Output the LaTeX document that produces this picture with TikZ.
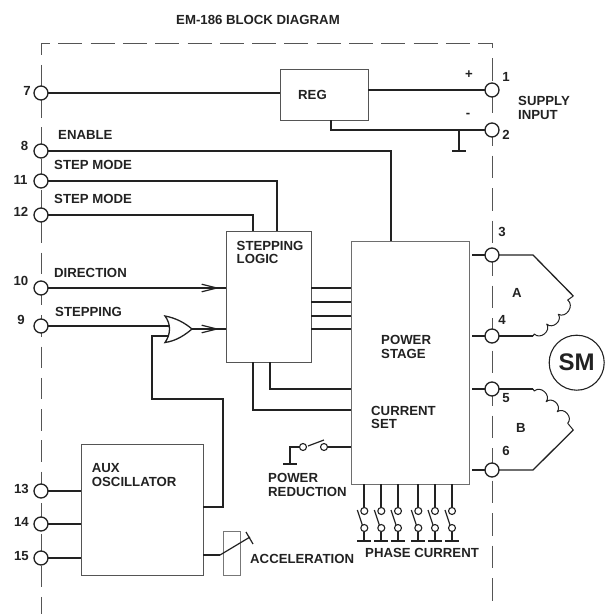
\documentclass[tikz,border=0pt]{standalone}
\usepackage{fontspec}
\setmainfont{Liberation Sans}
\usetikzlibrary{calc}
\definecolor{ink}{HTML}{222222}
\definecolor{edge}{HTML}{555555}
\tikzset{
  lbl/.style={font=\fontsize{13.2}{13.5}\selectfont\bfseries,text=ink,inner sep=0pt,align=left},
  lleft/.style={lbl,anchor=west},
  num/.style={lbl,anchor=center},
  term/.style={circle,draw=ink,fill=white,line width=1.3pt,minimum size=14pt,inner sep=0pt,outer sep=0pt},
  contact/.style={circle,draw=ink,fill=white,line width=1.1pt,minimum size=7pt,inner sep=0pt,outer sep=0pt},
  blockbox/.style={draw=edge,fill=white,line width=.7pt,inner sep=0pt,outer sep=0pt},
  wire/.style={draw=ink,line width=1.7pt,line join=miter},
  thinwire/.style={draw=ink,line width=1.2pt},
  coilwire/.style={draw=ink,line width=1pt,line join=round},
  hump/.style={bend left=85,looseness=1.35},
  frame/.style={draw=edge,line width=.7pt}
}
\begin{document}
\begin{tikzpicture}[x=1pt,y=-1pt]
\useasboundingbox (0,0) rectangle (605,614);
% dashed frame
\coordinate (fbl) at (41,614); \coordinate (ftl) at (41,43); \coordinate (ftr) at (492,43); \coordinate (fbr) at (492,605);
\draw[frame,dash pattern=on 21.5pt off 9.8pt,dash phase=9.5pt] (ftl) -- (fbl);
\draw[frame,dash pattern=on 24pt off 8.3pt,dash phase=15pt] (ftl) -- (ftr);
\draw[frame,dash pattern=on 22.5pt off 10pt,dash phase=17.5pt] (ftr) -- (fbr);

% blocks
\node[blockbox,minimum width=88pt,minimum height=50.5pt] (reg) at (324,94.75) {};
\node[blockbox,minimum width=85pt,minimum height=131pt] (logic) at (268.5,296.5) {};
\node[blockbox,draw=edge!85,line width=.9pt,minimum width=118pt,minimum height=243pt] (power) at (410,362.5) {};
\node[blockbox,minimum width=122pt,minimum height=131pt] (aux) at (142,509.5) {};
\node[blockbox,draw=edge!80,minimum width=17pt,minimum height=44pt] (accbox) at (231.5,553) {};

% terminals
\foreach \n/\x/\y in {7/41/93,8/41/151,11/41/181,12/41/215,10/41/288,9/41/326,13/41/491,14/41/524,15/41/558,
                      1/492/90,2/492/130,3/492/255,4/492/336,5/492/389,6/492/470}
  \node[term] (t\n) at (\x,\y) {};

% left inputs
\draw[wire] (t7) -- (t7 -| reg.west);
\coordinate (enc) at (391,151);
\draw[wire] (t8) -- (enc) -- (enc |- power.north);
\coordinate (m11) at (277,181);
\draw[wire] (t11) -- (m11) -- (m11 |- logic.north);
\coordinate (m12) at (253,215);
\draw[wire] (t12) -- (m12) -- (m12 |- logic.north);
\draw[wire] (t10) -- (t10 -| logic.west);
\coordinate (dirhead) at (217,288);
\draw[thinwire,line cap=round] (202,284.3) -- (dirhead) -- (202,291.7);

% OR gate
\coordinate (g1) at (165,316); \coordinate (g2) at (165,342.5); \coordinate (gout) at (192,329);
\path[fill=white,draw=ink,line width=1.3pt,line join=miter]
  (g1) .. controls (176,318) and (185,323) .. (gout)
       .. controls (185,335) and (176,341) .. (g2)
       .. controls (171,334) and (171,324) .. (g1) -- cycle;
\coordinate (gin1) at (168.5,326);
\coordinate (gin2) at (168.5,336);
\draw[wire] (t9) -- (gin1);
\draw[wire] (gin2) -- (152,336) -- (152,399) -- (223,399) -- (223,507) -- (aux.east |- 0,507);
\draw[thinwire] (gout) -- (gout -| logic.west);
\draw[thinwire,line cap=round] (202,325.3) -- (217,329) -- (202,332.7);

% aux inputs
\draw[wire] (t13) -- (t13 -| aux.west);
\draw[wire] (t14) -- (t14 -| aux.west);
\draw[wire] (t15) -- (t15 -| aux.west);

% acceleration switch
\coordinate (acc1) at (220,555); \coordinate (acc2) at (250,537);
\draw[wire] (aux.east |- acc1) -- (acc1);
\draw[thinwire] (acc1) -- (acc2);
\draw[thinwire] (246,532) -- (253,544);

% logic to power
\foreach \y in {288,302,316,329}
  \draw[wire] (logic.east |- 0,\y) -- (power.west |- 0,\y);
\coordinate (b1) at (270,389); \coordinate (b2) at (253,410);
\draw[wire] (b1 |- logic.south) -- (b1) -- (b1 -| power.west);
\draw[wire] (b2 |- logic.south) -- (b2) -- (b2 -| power.west);

% supply
\draw[wire] (t1) -- (t1 -| reg.east);
\coordinate (rb) at (331,130);
\draw[wire] (reg.south -| rb) -- (rb) -- (t2);
\coordinate (gj) at (459,130); \coordinate (gb) at (459,151);
\draw[wire] (gj) -- (gb);
\draw[wire] (452,151) -- (466,151);

% power reduction
\node[contact] (pr2) at (324,447) {};
\node[contact] (pr1) at (303,447) {};
\draw[wire] (pr2) -- (pr2 -| power.west);
\coordinate (prc) at (290,447); \coordinate (prg) at (290,464);
\draw[wire] (pr1) -- (prc) -- (prg);
\draw[wire] (283,464) -- (297,464);
\draw[thinwire] (308,446) -- (324,440);

% phase current switches
\foreach \i/\x in {1/364.3,2/381.3,3/398,4/418.3,5/435,6/452}{
  \node[contact] (pa\i) at (\x,511) {};
  \node[contact] (pb\i) at (\x,528) {};
  \coordinate (pg\i) at (\x,541);
  \draw[wire] (pa\i) -- (pa\i |- power.south);
  \draw[wire] (pb\i) -- (pg\i);
  \draw[wire] ($(pg\i)+(-7,0)$) -- ($(pg\i)+(7,0)$);
  \draw[thinwire] ($(pa\i)+(-7,-1)$) -- ($(pb\i)+(-2,-3)$);
}

% stubs to motor
\foreach \n in {3,4,5,6}
  \draw[wire] (472,0 |- t\n) -- (t\n);
\coordinate (a1) at (533,255); \coordinate (a2) at (573.3,296);
\coordinate (a3) at (567.7,300); \coordinate (a4) at (558.3,314.3);
\coordinate (a5) at (546.7,324); \coordinate (a6) at (534.3,334); \coordinate (a7) at (533,336);
\draw[wire,line width=1.3pt] (t3) -- (a1) -- (a2);
\draw[coilwire] (a2) -- (a3) to[hump] (a4) to[hump] (a5) to[hump] (a6) -- (a7);
\draw[wire,line width=1.3pt] (a7) -- (t4);
\coordinate (b1c) at (533,389); \coordinate (b2c) at (534.3,391);
\coordinate (b3c) at (546.2,401.7); \coordinate (b4c) at (557.3,411.7);
\coordinate (b5c) at (567.7,423.3); \coordinate (b6c) at (573.3,430); \coordinate (b7c) at (533,470);
\draw[wire,line width=1.3pt] (t5) -- (b1c);
\draw[coilwire] (b1c) -- (b2c) to[hump] (b3c) to[hump] (b4c) to[hump] (b5c) -- (b6c);
\draw[wire,line width=1.3pt] (b6c) -- (b7c) -- (t6);
\node[circle,draw=ink,line width=1.1pt,minimum size=55pt,inner sep=0pt,font=\fontsize{24}{26}\selectfont\bfseries,text=ink] (sm) at (576.7,362.7) {SM};

% labels
\node[num] (title) at (258,20) {EM-186 BLOCK DIAGRAM};
\node[num] (l7) at (27,91) {7};
\node[num] (l8) at (24.5,146) {8};
\node[num] (l11) at (20.5,180) {11};
\node[num] (l12) at (21,212) {12};
\node[num] (l10) at (21,281) {10};
\node[num] (l9) at (21,320) {9};
\node[num] (l13) at (21.5,489) {13};
\node[num] (l14) at (21.5,522) {14};
\node[num] (l15) at (21.5,556) {15};
\node[lleft] (lenable) at (58,135) {ENABLE};
\node[lleft] (lsm1) at (54,165) {STEP MODE};
\node[lleft] (lsm2) at (54,199) {STEP MODE};
\node[lleft] (ldir) at (54,273) {DIRECTION};
\node[lleft] (lstep) at (55,312) {STEPPING};
\node[lleft] (lreg) at (298,94.5) {REG};
\node[num] (lplus) at (469,75) {+};
\node[num] (lminus) at (468,115.5) {-};
\node[num] (l1) at (506,77) {1};
\node[num] (l2) at (506,135) {2};
\node[lleft] (lsupply) at (518,108) {SUPPLY\\INPUT};
\node[num] (l3) at (502,232) {3};
\node[num] (l4) at (502,320) {4};
\node[num] (la) at (517,293) {A};
\node[num] (l5) at (506,398) {5};
\node[num] (l6) at (506,451) {6};
\node[num] (lb) at (521,428) {B};
\node[lleft] (llogic) at (236.5,252.5) {STEPPING\\LOGIC};
\node[lleft] (lpower) at (381,347) {POWER\\STAGE};
\node[lleft] (lcur) at (371,417.5) {CURRENT\\SET};
\node[lleft] (laux) at (91.7,475) {AUX\\OSCILLATOR};
\node[lleft] (lpr) at (268,485) {POWER\\REDUCTION};
\node[lleft] (lacc) at (250,559) {ACCELERATION};
\node[lleft] (lph) at (365,553) {PHASE CURRENT};
\end{tikzpicture}
\end{document}
